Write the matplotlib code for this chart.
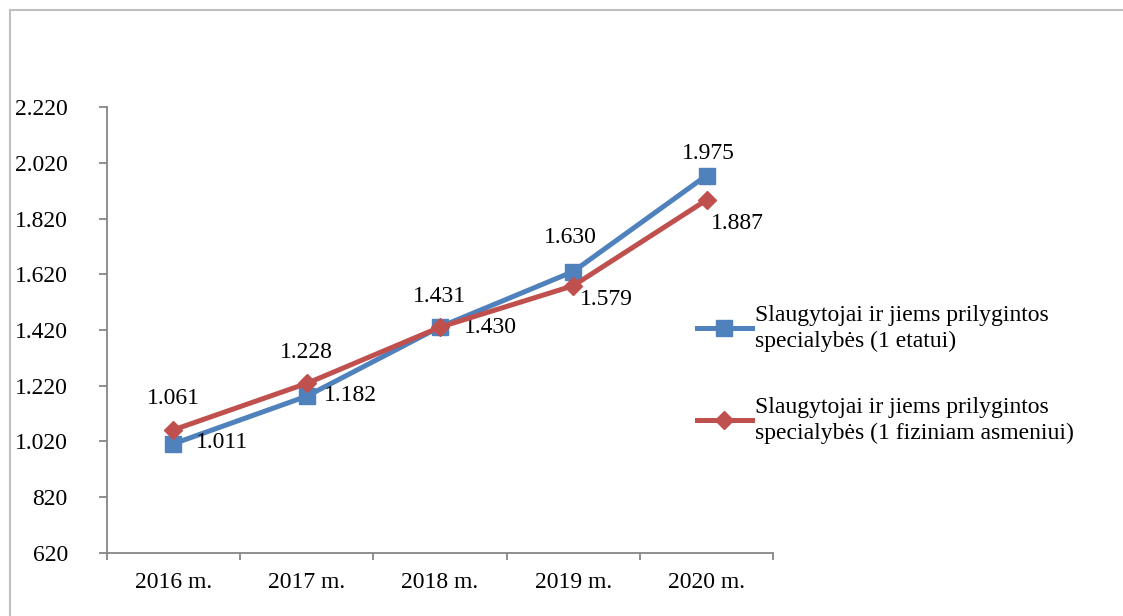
import matplotlib
matplotlib.use("Agg")
import matplotlib.pyplot as plt
from matplotlib.lines import Line2D

categories = ["2016 m.", "2017 m.", "2018 m.", "2019 m.", "2020 m."]
etatui = [1011, 1182, 1431, 1630, 1975]
fiziniam = [1061, 1228, 1430, 1579, 1887]
label_etatui = "Slaugytojai ir jiems prilygintos\nspecialybės (1 etatui)"
label_fiziniam = "Slaugytojai ir jiems prilygintos\nspecialybės (1 fiziniam asmeniui)"
yticks = [620, 820, 1020, 1220, 1420, 1620, 1820, 2020, 2220]

def fmt(v):
    return f"{v:,}".replace(",", ".")

plt.rcParams['font.family'] = ['Liberation Serif', 'DejaVu Serif']
FS = 17
BLUE = "#4F81BD"
RED = "#C0504D"
GRAY = "#868686"

fig = plt.figure(figsize=(11.23, 6.16), dpi=100)
ax = fig.add_axes([0.095, 0.1028, 0.5935, 0.723])

x = list(range(len(categories)))
ax.plot(x, etatui, color=BLUE, lw=3.6, marker="s", ms=11.5, zorder=3, label=label_etatui)
ax.plot(x, fiziniam, color=RED, lw=3.6, marker="D", ms=9.5, zorder=4, label=label_fiziniam)

ax.set_xlim(-0.5, len(categories) - 0.5)
ax.set_ylim(620, 2220)
ax.set_yticks(yticks)
ax.set_yticklabels([fmt(v) for v in yticks], fontsize=FS)
ax.set_xticks(x)
ax.set_xticklabels(categories, fontsize=FS)
ax.tick_params(axis="x", length=0, pad=14)
ax.set_xticks([i - 0.5 for i in range(len(categories) + 1)], minor=True)
ax.tick_params(axis="x", which="minor", length=5, color=GRAY, width=1.3)
ax.tick_params(axis="y", length=6, color=GRAY, width=1.3, pad=22)
for s in ["top", "right"]:
    ax.spines[s].set_visible(False)
for s in ["left", "bottom"]:
    ax.spines[s].set_color(GRAY)
    ax.spines[s].set_linewidth(1.3)

off_b = [(49, 1), (44, 1), (0, 30), (-3, 34), (2, 22)]
off_r = [(0, 31), (0, 31), (50, 0), (33, -14), (31, -24)]
for i, v in enumerate(etatui):
    ax.annotate(fmt(v), (x[i], v), xytext=off_b[i], textcoords="offset pixels",
                ha="center", va="center", fontsize=FS)
for i, v in enumerate(fiziniam):
    ax.annotate(fmt(v), (x[i], v), xytext=off_r[i], textcoords="offset pixels",
                ha="center", va="center", fontsize=FS)

leg = fig.legend(loc="center left", bbox_to_anchor=(0.612, 0.392), frameon=False,
                 fontsize=FS, handlelength=2.35, handletextpad=0.12, labelspacing=1.9,
                 borderaxespad=0)
for t in leg.get_texts():
    t.set_linespacing(1.3)

fig.add_artist(Line2D([0.009, 0.009], [0, 0.984], transform=fig.transFigure, color="#BFBFBF", lw=1.5))
fig.add_artist(Line2D([0.009, 1], [0.984, 0.984], transform=fig.transFigure, color="#BFBFBF", lw=1.5))

fig.savefig("out.png", dpi=100)
